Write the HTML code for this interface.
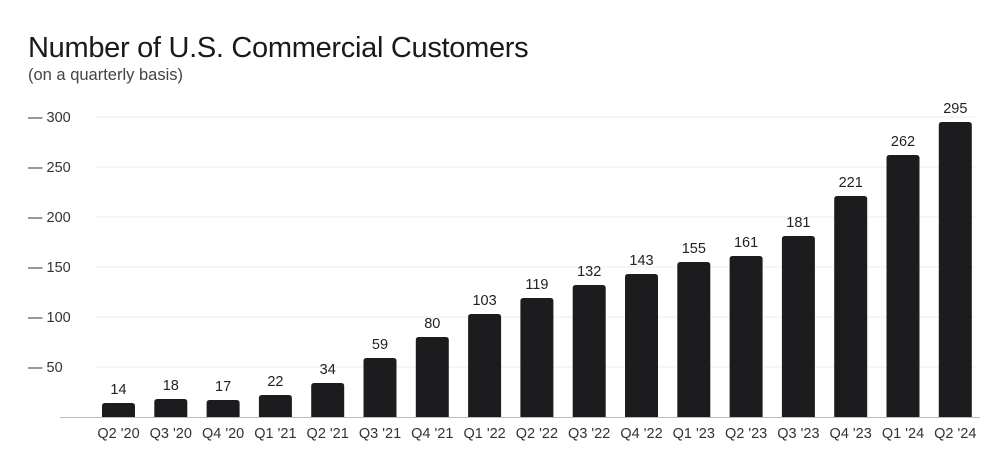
<!DOCTYPE html>
<html><head><meta charset="utf-8"><style>
body{margin:0;background:#fff;font-family:"Liberation Sans",sans-serif;}
svg{display:block}
</style></head><body>
<svg width="1000" height="466" viewBox="0 0 1000 466">
<text x="28" y="57" font-size="29" fill="#1a1a1a" letter-spacing="-0.3">Number of U.S. Commercial Customers</text>
<text x="28" y="80" font-size="16.5" fill="#444">(on a quarterly basis)</text>
<g id="grid"></g><g id="bars"></g>
</svg>
<script>
const categories=["Q2 '20","Q3 '20","Q4 '20","Q1 '21","Q2 '21","Q3 '21","Q4 '21","Q1 '22","Q2 '22","Q3 '22","Q4 '22","Q1 '23","Q2 '23","Q3 '23","Q4 '23","Q1 '24","Q2 '24"];
const values=[14,18,17,22,34,59,80,103,119,132,143,155,161,181,221,262,295];
const ticks=[50,100,150,200,250,300];
const NS="http://www.w3.org/2000/svg";
const y0=417, ppu=1.0;
const y=v=>y0-v*ppu;
const x=i=>118.5+i*52.3;
const bw=33;
function mk(tag,attrs,parent){const e=document.createElementNS(NS,tag);for(const k in attrs)e.setAttribute(k,attrs[k]);parent.appendChild(e);return e;}
const g=document.getElementById('grid'), b=document.getElementById('bars');
ticks.forEach(t=>{
  const l=mk('line',{x1:95,x2:975,y1:y(t),y2:y(t),stroke:'#eeeeee','stroke-width':1},g);
  
  
  const tx=mk('text',{x:28,y:y(t)+5,'font-size':14.5,fill:'#333'},g);
  tx.textContent='— '+t;
  
  
});
const base=mk('line',{x1:60,x2:980,y1:y0+0.5,y2:y0+0.5,stroke:'#bbb','stroke-width':1},g);


values.forEach((v,i)=>{
  const cx=x(i), top=y(v), r=3;
  const p=mk('path',{d:`M${cx-bw/2},${y0} V${top+r} Q${cx-bw/2},${top} ${cx-bw/2+r},${top} H${cx+bw/2-r} Q${cx+bw/2},${top} ${cx+bw/2},${top+r} V${y0} Z`,fill:'#1c1c1e'},b);
  
  
  const vt=mk('text',{x:cx,y:top-9,'font-size':14.5,fill:'#222','text-anchor':'middle'},b);
  vt.textContent=v;
  
  
  const ct=mk('text',{x:cx,y:438,'font-size':14.5,fill:'#333','text-anchor':'middle'},b);
  ct.textContent=categories[i];
  
  
});
</script>
</body></html>
